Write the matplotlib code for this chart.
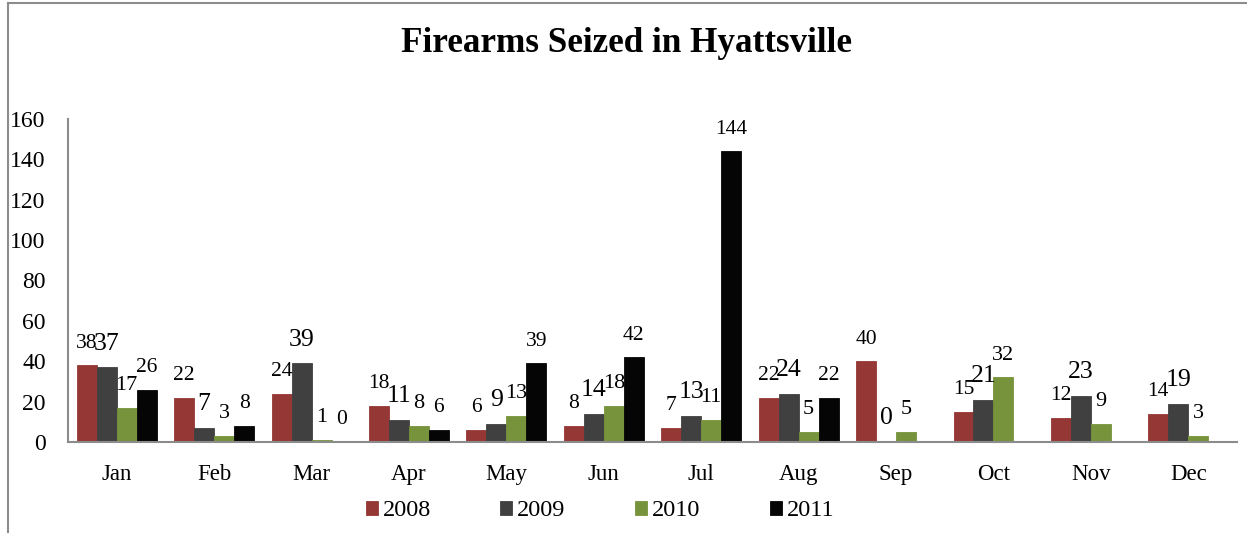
import matplotlib
matplotlib.use("Agg")
import matplotlib.pyplot as plt
import numpy as np
from matplotlib.lines import Line2D

months = ["Jan", "Feb", "Mar", "Apr", "May", "Jun", "Jul", "Aug", "Sep", "Oct", "Nov", "Dec"]
years = ["2008", "2009", "2010", "2011"]
v2008 = [38, 22, 24, 18, 6, 8, 7, 22, 40, 15, 12, 14]
v2009 = [37, 7, 39, 11, 9, 14, 13, 24, 0, 21, 23, 19]
v2010 = [17, 3, 1, 8, 13, 18, 11, 5, 5, 32, 9, 3]
v2011 = [26, 8, 0, 6, 39, 42, 144, 22, None, None, None, None]
series = [v2008, v2009, v2010, v2011]
colors = ["#953735", "#404040", "#77933C", "#050505"]
label_sizes = [15.5, 18.5, 16, 15.5]

plt.rcParams['font.family'] = ['Liberation Serif', 'DejaVu Serif']

W, H = 1247, 533
fig = plt.figure(figsize=(W / 100, H / 100), dpi=100)
ax = fig.add_axes([68 / W, (H - 442) / H, (1237 - 68) / W, (442 - 119) / H])

x = np.arange(len(months))
bw = 0.205
for i, (vals, c) in enumerate(zip(series, colors)):
    off = (i - 1.5) * bw
    xs = [xi + off for xi, v in zip(x, vals) if v is not None]
    ys = [v for v in vals if v is not None]
    ax.bar(xs, ys, width=bw, color=c, edgecolor=c, linewidth=0.6,
           label=years[i], zorder=2)
    for xi, v in zip(xs, ys):
        ax.annotate(str(v), (xi, v), xytext=(0, 9), textcoords="offset points",
                    ha="center", va="bottom", fontsize=label_sizes[i], color="black")

ax.set_xlim(-0.5, 11.5)
ax.set_ylim(0, 160)
ax.set_yticks(np.arange(0, 161, 20))
ax.set_xticks(x)
ax.set_xticklabels(months)
ax.tick_params(axis="both", length=0)
ax.tick_params(axis="y", pad=16, labelsize=17)
ax.tick_params(axis="x", pad=16, labelsize=16.5)
for s in ["top", "right"]:
    ax.spines[s].set_visible(False)
for s in ["left", "bottom"]:
    ax.spines[s].set_color("#8c8c8c")
    ax.spines[s].set_linewidth(1.5)

fig.text(627 / W, 1 - 44 / H, "Firearms Seized in Hyattsville", ha="center", va="center",
         fontsize=25.3, fontweight="bold")

fig.legend(loc="center", bbox_to_anchor=(600 / W, 1 - 511 / H), ncol=4, frameon=False,
           fontsize=17.5, handlelength=0.5, handleheight=0.5, handletextpad=0.2,
           columnspacing=2.85)

# outer border (left and top)
fig.add_artist(Line2D([8 / W, 8 / W], [0, 1 - 3 / H], transform=fig.transFigure,
                      color="#8c8c8c", linewidth=1.5))
fig.add_artist(Line2D([8 / W, 1], [1 - 3 / H, 1 - 3 / H], transform=fig.transFigure,
                      color="#8c8c8c", linewidth=1.5))

fig.savefig("out.png", dpi=100)
